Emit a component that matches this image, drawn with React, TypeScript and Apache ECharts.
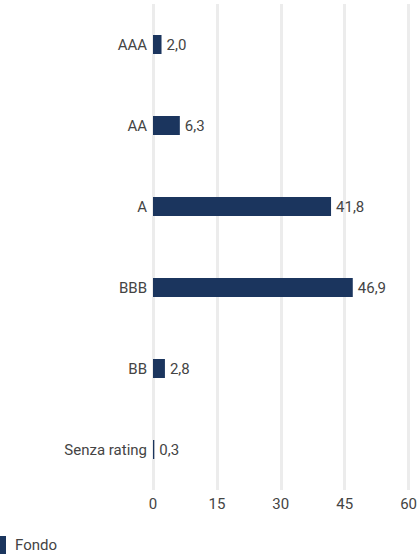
import React, { useEffect, useRef } from "react";
import * as echarts from "echarts";

const categories = ["AAA", "AA", "A", "BBB", "BB", "Senza rating"];
const fondoValues = [2.0, 6.3, 41.8, 46.9, 2.8, 0.3];
const xTicks = [0, 15, 30, 45, 60];
const seriesName = "Fondo";

const FONT = "Roboto, 'DejaVu Sans Condensed', sans-serif";
const TEXT = "#444444";
const FS = 15;

export default function App() {
  const ref = useRef<HTMLDivElement>(null);
  useEffect(() => {
    if (!ref.current) return;
    const chart = echarts.init(ref.current, null, { renderer: "svg" });
    const cats = [...categories].reverse();
    const vals = [...fondoValues].reverse();
    chart.setOption({
      animation: false,
      textStyle: { fontFamily: FONT },
      grid: { left: 153, right: 8.5, top: 4, bottom: 70, containLabel: false },
      legend: {
        data: [seriesName],
        left: -6,
        top: 536,
        padding: 0,
        itemWidth: 12,
        itemHeight: 18,
        icon: "rect",
        textStyle: { fontFamily: FONT, fontSize: FS, color: TEXT, padding: [0, 0, 0, 4] },
      },
      xAxis: {
        type: "value",
        min: xTicks[0],
        max: xTicks[xTicks.length - 1],
        interval: 15,
        axisLine: { show: false },
        axisTick: { show: false },
        splitLine: { show: true, lineStyle: { color: "#ececec", width: 3 } },
        axisLabel: { fontFamily: FONT, fontSize: FS, color: TEXT, margin: 6 },
      },
      yAxis: {
        type: "category",
        data: cats,
        axisLine: { show: false },
        axisTick: { show: false },
        axisLabel: { fontFamily: FONT, fontSize: FS, color: TEXT, margin: 6 },
      },
      series: [
        {
          name: seriesName,
          type: "bar",
          data: vals,
          barWidth: 19,
          itemStyle: { color: "#1b355e" },
          label: {
            show: true,
            position: "right",
            distance: 5,
            fontFamily: FONT,
            fontSize: FS,
            color: TEXT,
            formatter: (p: any) => Number(p.value).toFixed(1).replace(".", ","),
          },
        },
      ],
    });
    return () => chart.dispose();
  }, []);
  return (
    <div
      ref={ref}
      style={{ position: "absolute", left: 0, top: 0, width: 420, height: 560, background: "#fff" }}
    />
  );
}
